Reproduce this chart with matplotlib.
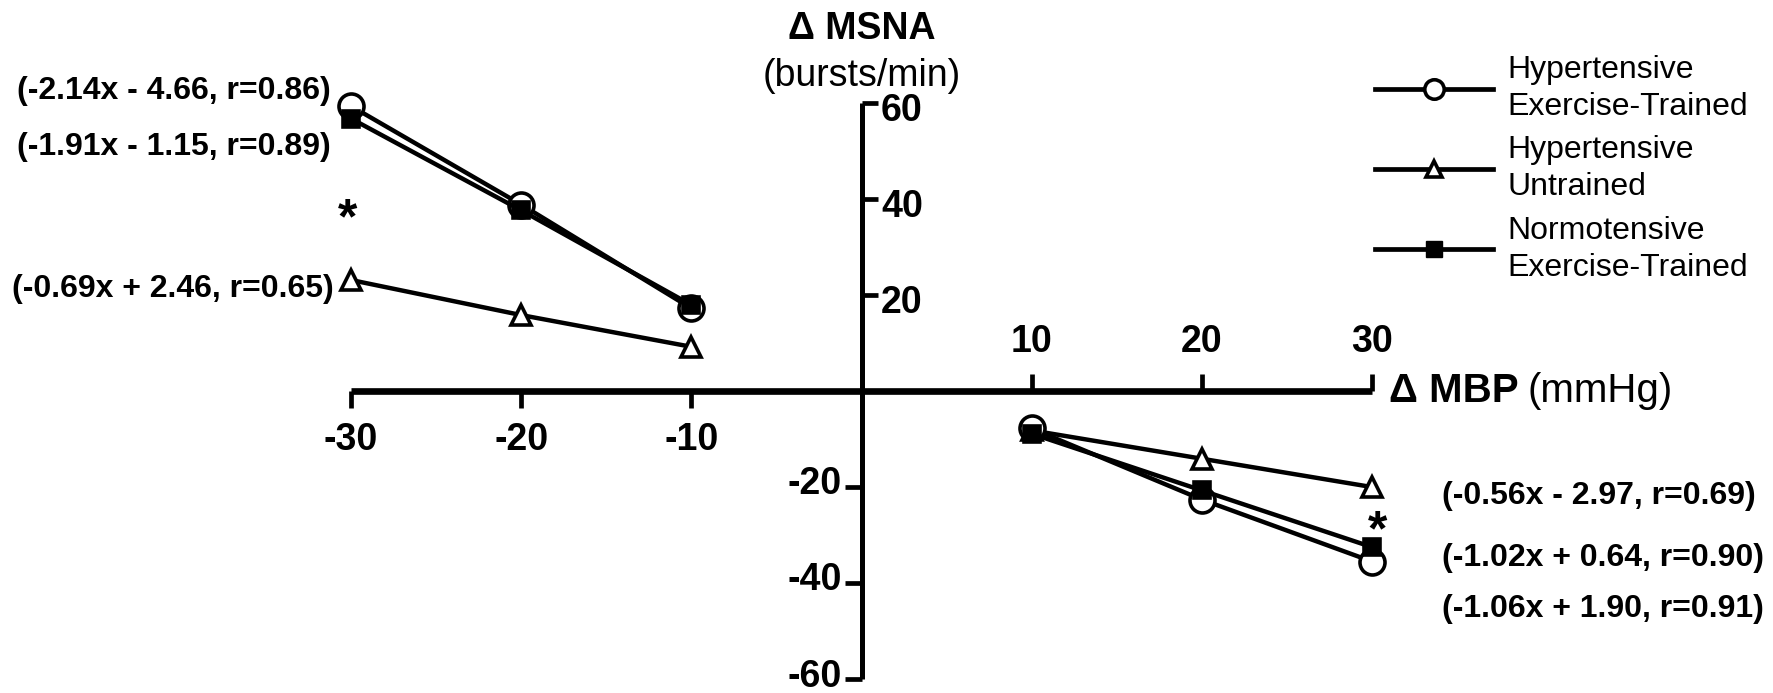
import matplotlib.pyplot as plt
from matplotlib.lines import Line2D

plt.rcParams['font.family'] = ['Liberation Sans', 'DejaVu Sans']

# change in mean blood pressure (mmHg)
mbp = [-30, -20, -10, 10, 20, 30]

# change in MSNA (bursts/min) per group
htn_trained = [59.3, 38.8, 17.2, -7.8, -22.6, -35.5]
htn_untrained = [23.1, 15.8, 9.2, -8.2, -14.1, -20.0]
norm_trained = [56.7, 37.6, 17.9, -8.9, -20.7, -32.5]

labels = ["Hypertensive\nExercise-Trained",
          "Hypertensive\nUntrained",
          "Normotensive\nExercise-Trained"]

x_ticks = [-30, -20, -10, 10, 20, 30]
y_ticks = [60, 40, 20, -20, -40, -60]

# regression equations (text, x, y, ha)
equations = [
    ("(-2.14x - 4.66, r=0.86)", -31.2, 62.5, "right"),
    ("(-1.91x - 1.15, r=0.89)", -31.2, 50.8, "right"),
    ("(-0.69x + 2.46, r=0.65)", -31.0, 21.2, "right"),
    ("(-0.56x - 2.97, r=0.69)", 34.1, -21.8, "left"),
    ("(-1.02x + 0.64, r=0.90)", 34.1, -34.7, "left"),
    ("(-1.06x + 1.90, r=0.91)", 34.1, -45.4, "left"),
]
stars = [(-30.2, 35.5), (30.3, -29.5)]

fig = plt.figure(figsize=(17.73, 6.93), dpi=100)
ax = fig.add_axes([0, 0, 1, 1])
ax.set_xlim(-50.62, 53.55)
ax.set_ylim(-62.85, 81.37)
ax.axis('off')

# axes through the origin
ax.plot([min(x_ticks), max(x_ticks)], [0, 0], color='black', lw=4.8,
        solid_capstyle='butt', zorder=1)
ax.plot([0, 0], [min(y_ticks), max(y_ticks)], color='black', lw=3.6,
        solid_capstyle='butt', zorder=1)

tick_font = dict(fontsize=27, fontweight='bold')
for x in x_ticks:
    d = -1 if x < 0 else 1
    ax.plot([x, x], [0, d * 3.6], color='black', lw=3.4,
            solid_capstyle='butt', zorder=1)
    ax.annotate(str(x), xy=(x, 0), xytext=(0, d * 35), textcoords='offset points',
                ha='center', va='center', **tick_font)
for y in y_ticks:
    d = 1 if y > 0 else -1
    ax.plot([0, d * 0.95], [y, y], color='black', lw=3.4,
            solid_capstyle='butt', zorder=1)
    ax.annotate(str(y), xy=(0, y), xytext=(d * 14, -6 if d > 0 else 2),
                textcoords='offset points',
                ha='left' if d > 0 else 'right', va='center', **tick_font)

style = dict(color='black', lw=3.2, markeredgecolor='black', markeredgewidth=2.6)
for vals, m, fc, ms in [(htn_untrained, '^', 'white', 14),
                        (htn_trained, 'o', 'white', 18),
                        (norm_trained, 's', 'black', 11)]:
    ax.plot(mbp[:3], vals[:3], marker=m, markerfacecolor=fc, ms=ms, **style)
    ax.plot(mbp[3:], vals[3:], marker=m, markerfacecolor=fc, ms=ms, **style)

# legend order: circle, triangle, square
leg_handles = [Line2D([], [], color='black', lw=3.4, marker='o', markerfacecolor='white',
                      markeredgecolor='black', markeredgewidth=2.6, ms=14),
               Line2D([], [], color='black', lw=3.4, marker='^', markerfacecolor='white',
                      markeredgecolor='black', markeredgewidth=2.6, ms=11),
               Line2D([], [], color='black', lw=3.4, marker='s', markerfacecolor='black',
                      markeredgecolor='black', ms=12)]
leg = ax.legend(leg_handles, labels, loc='upper left',
                bbox_to_anchor=(1375 / 1773, 1 - 55 / 693),
                frameon=False, fontsize=23, handlelength=3.7, handletextpad=0.45,
                labelspacing=0.42, borderpad=0, borderaxespad=0)
for lt in leg.get_texts():
    lt.set_linespacing(1.3)

for txt, x, y, ha in equations:
    ax.text(x, y, txt, ha=ha, va='center', fontsize=23, fontweight='bold')
for x, y in stars:
    ax.text(x, y, '*', ha='center', va='center', fontsize=36, fontweight='bold')

# axis titles
ax.text(0, 75.4, 'Δ MSNA', ha='center', va='center', fontsize=27, fontweight='bold')
ax.text(0, 65.6, '(bursts/min)', ha='center', va='center', fontsize=27)
t = ax.text(31.0, 0, 'Δ MBP', ha='left', va='center', fontsize=29, fontweight='bold')
ax.annotate('(mmHg)', xy=(1, 0.5), xycoords=t, xytext=(6, 0), textcoords='offset points',
            ha='left', va='center', fontsize=29)

fig.savefig('out.png', dpi=100)
